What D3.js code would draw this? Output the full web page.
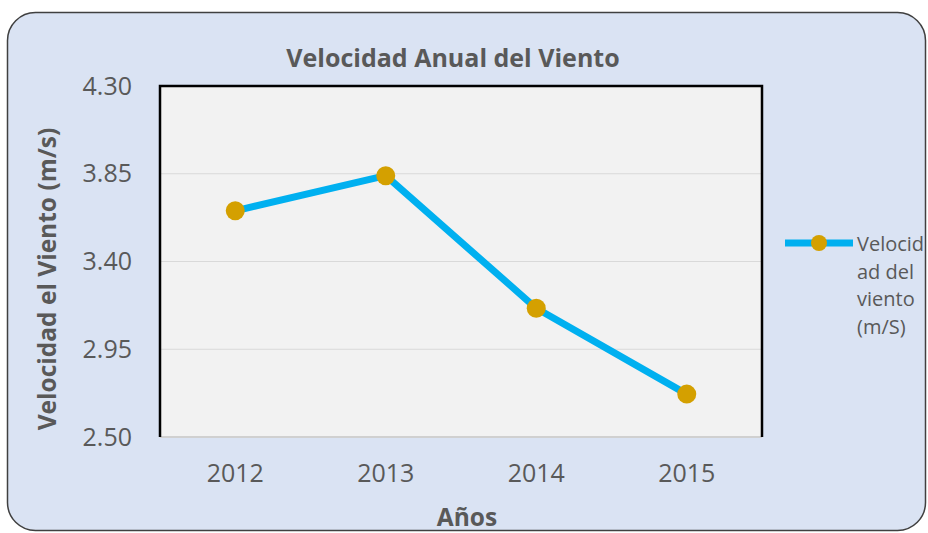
<!DOCTYPE html>
<html>
<head>
<meta charset="utf-8">
<script src="https://cdn.jsdelivr.net/npm/d3@7"></script>
<style>
  body { margin: 0; background: #fff; }
  text { font-family: "Open Sans", sans-serif; fill: #595959; }
</style>
</head>
<body>
<script>
// data
let years = ["2012", "2013", "2014", "2015"]
let speeds = [3.66, 3.84, 3.16, 2.72]
let yTicks = [2.50, 2.95, 3.40, 3.85, 4.30]
let seriesName = ["Velocid", "ad del", "viento", "(m/S)"]

let width = 928
let height = 533
let plot = {left: 160, top: 86, right: 762, bottom: 437}

let svg = d3.select("body")
    .append("svg")
    .attr("width", width)
    .attr("height", height)

// outer chart box
svg.append("rect")
    .attr("x", 7.5)
    .attr("y", 12.5)
    .attr("width", 918)
    .attr("height", 518)
    .attr("rx", 28)
    .attr("fill", "#dae3f3")
    .attr("stroke", "#404040")
    .attr("stroke-width", 1.5)

let x = d3.scaleBand()
    .domain(years)
    .range([plot.left, plot.right])

let y = d3.scaleLinear()
    .domain([2.5, 4.3])
    .range([plot.bottom, plot.top])

// plot area
svg.append("rect")
    .attr("x", plot.left)
    .attr("y", plot.top)
    .attr("width", plot.right - plot.left)
    .attr("height", plot.bottom - plot.top)
    .attr("fill", "#f2f2f2")

// grid
svg.append("g")
    .selectAll("line")
    .data(yTicks.slice(1, -1))
    .enter()
    .append("line")
    .attr("x1", plot.left)
    .attr("x2", plot.right)
    .attr("y1", d => y(d))
    .attr("y2", d => y(d))
    .attr("stroke", "#d9d9d9")
    .attr("stroke-width", 1)

// bottom axis line (light)
svg.append("line")
    .attr("x1", plot.left)
    .attr("x2", plot.right)
    .attr("y1", plot.bottom)
    .attr("y2", plot.bottom)
    .attr("stroke", "#d0d0d0")
    .attr("stroke-width", 2)

// left, top, right border in black
svg.append("path")
    .attr("d", `M${plot.left},${plot.bottom} V${plot.top} H${plot.right} V${plot.bottom}`)
    .attr("fill", "none")
    .attr("stroke", "#000")
    .attr("stroke-width", 2.5)

// y axis
let yAxis = d3.axisLeft(y)
    .tickValues(yTicks)
    .tickFormat(d3.format(".2f"))
    .tickSize(0)
    .tickPadding(28)
let gy = svg.append("g")
    .attr("transform", `translate(${plot.left},0)`)
    .call(yAxis)
gy.select(".domain").remove()
gy.selectAll("text")
    .style("font-size", "25px")
    .attr("font-family", null)

// x axis
let xAxis = d3.axisBottom(x).tickSize(0).tickPadding(27)
let gx = svg.append("g")
    .attr("transform", `translate(0,${plot.bottom})`)
    .call(xAxis)
gx.select(".domain").remove()
gx.selectAll("text")
    .style("font-size", "25px")
    .attr("font-family", null)

// line
let line = d3.line()
    .x((d, i) => x(years[i]) + x.bandwidth() / 2)
    .y(d => y(d))

svg.append("path")
    .datum(speeds)
    .attr("d", line)
    .attr("fill", "none")
    .attr("stroke", "#00b0f0")
    .attr("stroke-width", 7)
    .attr("stroke-linejoin", "round")

svg.selectAll(".dot")
    .data(speeds)
    .enter()
    .append("circle")
    .attr("class", "dot")
    .attr("cx", (d, i) => x(years[i]) + x.bandwidth() / 2)
    .attr("cy", d => y(d))
    .attr("r", 9.5)
    .attr("fill", "#d4a000")

// titles
svg.append("text")
    .attr("x", 453)
    .attr("y", 67)
    .attr("text-anchor", "middle")
    .style("font-size", "25px")
    .style("font-weight", "bold")
    .text("Velocidad Anual del Viento")

svg.append("text")
    .attr("transform", "translate(56,279) rotate(-90)")
    .attr("text-anchor", "middle")
    .style("font-size", "24.5px")
    .style("font-weight", "bold")
    .text("Velocidad el Viento (m/s)")

svg.append("text")
    .attr("x", 467)
    .attr("y", 526)
    .attr("text-anchor", "middle")
    .style("font-size", "24.5px")
    .style("font-weight", "bold")
    .text("Años")

// legend
let legend = svg.append("g")
legend.append("line")
    .attr("x1", 785)
    .attr("x2", 853)
    .attr("y1", 243)
    .attr("y2", 243)
    .attr("stroke", "#00b0f0")
    .attr("stroke-width", 7)
legend.append("circle")
    .attr("cx", 819)
    .attr("cy", 243)
    .attr("r", 8)
    .attr("fill", "#d4a000")
legend.selectAll(".leg")
    .data(seriesName)
    .enter()
    .append("text")
    .attr("class", "leg")
    .attr("x", 857)
    .attr("y", (d, i) => 251 + i * 27.5)
    .style("font-size", "20px")
    .text(d => d)
</script>
</body>
</html>
